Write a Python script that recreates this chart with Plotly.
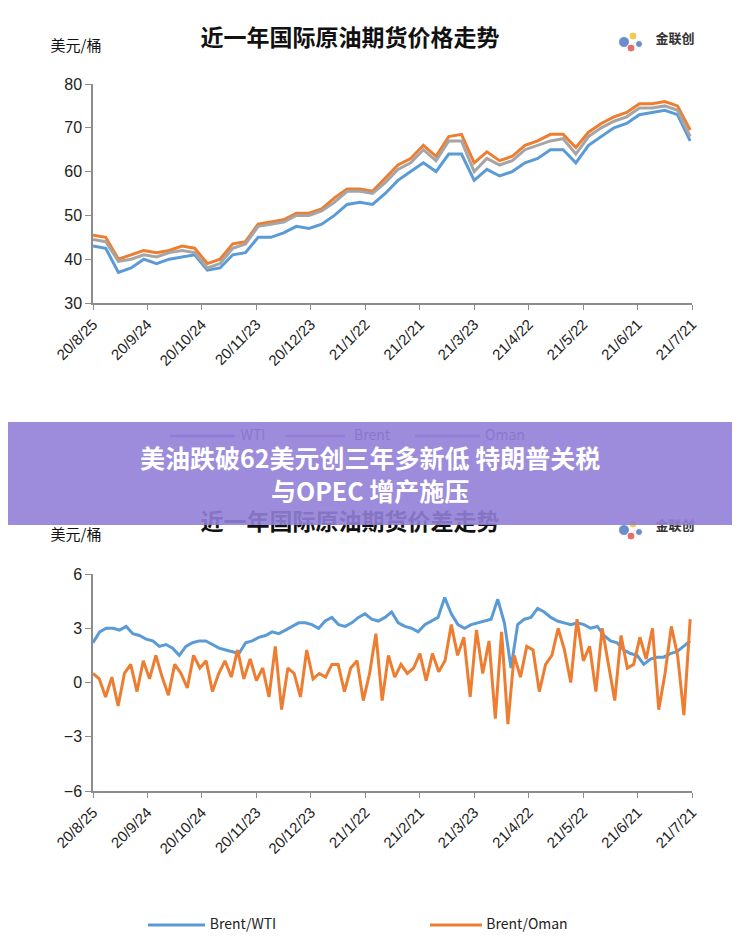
import pandas as pd
import plotly.graph_objects as go

# page body has an 8px margin, so the figure is 16px smaller than the window
OFF = 8
W, H = 740 - 2 * OFF, 948 - 2 * OFF

# weekly futures prices, USD/bbl
wti = [43, 42.5, 37, 38, 40, 39, 40, 40.5, 41, 37.5, 38, 41, 41.5, 45, 45, 46, 47.5, 47, 48,
       50, 52.5, 53, 52.5, 55, 58, 60, 62, 60, 64, 64, 58, 60.5, 59, 60, 62, 63, 65, 65, 62,
       66, 68, 70, 71, 73, 73.5, 74, 73, 67]
brent = [45.5, 45, 40, 41, 42, 41.5, 42, 43, 42.5, 39, 40, 43.5, 44, 48, 48.5, 49, 50.5, 50.5,
         51.5, 54, 56, 56, 55.5, 58.5, 61.5, 63, 66, 63.5, 68, 68.5, 62, 64.5, 62.5, 63.5, 66,
         67, 68.5, 68.5, 65.5, 69, 71, 72.5, 73.5, 75.5, 75.5, 76, 75, 69.5]
oman = [44.5, 44, 39.5, 40, 41, 40.5, 41.5, 42, 41.5, 38, 39, 42.5, 43.5, 47.5, 48, 48.5, 50,
        50, 51, 53, 55.5, 55.5, 55, 57.5, 60.5, 62, 65, 62.5, 67, 67, 60, 63, 61.5, 62.5, 65,
        66, 67, 67.5, 64, 68, 70, 71.5, 72.5, 74.5, 74.5, 75, 74, 68]

# spreads
brent_wti = [2.2, 2.8, 3.0,
             3.0, 2.9, 3.1, 2.7, 2.6, 2.4, 2.3, 2.0, 2.1,
             1.9, 1.5, 2.0, 2.2, 2.3, 2.3, 2.1, 1.9, 1.8,
             1.7, 1.6, 2.2, 2.3, 2.5, 2.6, 2.8, 2.7, 2.9,
             3.1, 3.3, 3.3, 3.2, 3.0, 3.4, 3.6, 3.2, 3.1,
             3.3, 3.6, 3.8, 3.5, 3.4, 3.6, 3.9, 3.3, 3.1,
             3.0, 2.8, 3.2, 3.4, 3.6, 4.7, 3.8, 3.2, 3.0,
             3.2, 3.3, 3.4, 3.5, 4.6, 3.3, 0.8, 3.2, 3.5,
             3.6, 4.1, 3.9, 3.6, 3.4, 3.3, 3.2, 3.3, 3.2,
             3.0, 3.1, 2.6, 2.3, 2.2, 1.8, 1.6, 1.5, 1.0,
             1.3, 1.4, 1.4, 1.6, 1.7, 2.0, 2.3]
brent_oman = [0.5, 0.2, -0.8,
              0.3, -1.3, 0.5, 1.0, -0.5, 1.2, 0.2, 1.5, 0.3,
              -0.7, 1.0, 0.5, -0.3, 1.5, 0.8, 1.2, -0.5, 0.5,
              1.2, 0.3, 1.8, 0.2, 1.3, 0.1, 0.8, -0.8, 2.0,
              -1.5, 0.8, 0.5, -0.8, 1.8, 0.2, 0.5, 0.3, 1.0,
              1.0, -0.5, 0.8, 1.2, -1.0, 0.5, 2.7, -1.0, 1.5,
              0.3, 1.0, 0.5, 0.8, 1.6, 0.1, 1.6, 0.6, 1.2,
              3.2, 1.5, 2.5, -0.8, 2.9, 0.5, 2.3, -2.0, 2.8,
              -2.3, 1.5, 0.3, 2.0, 1.8, -0.5, 1.0, 1.5, 3.0,
              1.8, 0.0, 3.5, 1.2, 2.0, -0.5, 3.0, 1.0, -1.0,
              2.6, 0.8, 1.0, 2.5, 1.3, 3.0, -1.5, 0.5, 3.1,
              1.5, -1.8, 3.5]

tick_dates = ["2020-08-25", "2020-09-24", "2020-10-24", "2020-11-23", "2020-12-23", "2021-01-22",
              "2021-02-21", "2021-03-23", "2021-04-22", "2021-05-22", "2021-06-21", "2021-07-21"]
tick_labels = ["20/8/25", "20/9/24", "20/10/24", "20/11/23", "20/12/23", "21/1/22",
               "21/2/21", "21/3/23", "21/4/22", "21/5/22", "21/6/21", "21/7/21"]

start, end = pd.Timestamp("2020-08-25"), pd.Timestamp("2021-07-20")
d_px = pd.date_range(start, end, periods=len(wti))
d_bw = pd.date_range(start, end, periods=len(brent_wti))
d_bo = pd.date_range(start, end, periods=len(brent_oman))

BLUE, ORANGE, GRAY = "#5b9bd5", "#ed7d31", "#a5a5a5"
AX = "#8c8c8c"


def fx(p):
    return (p - OFF) / W


def fy(p):
    return 1 - (p - OFF) / H


fig = go.Figure()
for y, c in [(wti, BLUE), (brent, ORANGE), (oman, GRAY)]:
    fig.add_trace(go.Scatter(x=d_px, y=y, mode="lines", line=dict(color=c, width=3),
                             xaxis="x", yaxis="y", showlegend=False))
for d, y, c in [(d_bw, brent_wti, BLUE), (d_bo, brent_oman, ORANGE)]:
    fig.add_trace(go.Scatter(x=d, y=y, mode="lines", line=dict(color=c, width=3),
                             xaxis="x2", yaxis="y2", showlegend=False))

xcommon = dict(type="date", range=["2020-08-25", "2021-07-21"], tickvals=tick_dates,
               ticktext=tick_labels, tickangle=-45, ticks="outside", ticklen=5,
               tickcolor=AX, showline=True, linecolor=AX, linewidth=1.5,
               showgrid=False, zeroline=False, domain=[fx(93), fx(692)], automargin=False,
               tickfont=dict(family="Liberation Sans", size=15, color="#222"))
ycommon = dict(ticks="outside", ticklen=6, tickcolor=AX, showline=True, linecolor=AX,
               linewidth=1.5, showgrid=False, zeroline=False, automargin=False,
               tickfont=dict(family="Liberation Sans", size=16, color="#222"))

# pixel overlay axis for chart labels (drawn under the banner)
ov = dict(domain=[0, 1], visible=False, fixedrange=True, automargin=False)
labels = [
    (350, 40, "近一年国际原油期货价格走势", 23, "#111", "bold"),
    (350, 524, "近一年国际原油期货价差走势", 23, "#111", "bold"),
    (76, 47, "美元/桶", 15, "#111", "normal"),
    (76, 536, "美元/桶", 15, "#111", "normal"),
    (253, 436, "WTI", 14, "#33335a", "normal"),
    (372, 436, "Brent", 14, "#33335a", "normal"),
    (505, 436, "Oman", 14, "#33335a", "normal"),
    (675, 40, "金联创", 13, "#333", "bold"),
    (675, 527, "金联创", 13, "#333", "bold"),
    (243, 925, "Brent/WTI", 14, "#222", "normal"),
    (527, 925, "Brent/Oman", 14, "#222", "normal"),
]
fig.add_trace(go.Scatter(
    x=[l[0] for l in labels], y=[l[1] for l in labels], text=[l[2] for l in labels],
    mode="text", xaxis="x3", yaxis="y3", showlegend=False, hoverinfo="skip",
    textfont=dict(family="Noto Sans CJK SC", size=[l[3] for l in labels],
                  color=[l[4] for l in labels], weight=[l[5] for l in labels])))
# logo blobs
for ly in (42, 530):
    fig.add_trace(go.Scatter(x=[624, 633, 631, 639], y=[ly, ly - 6, ly + 6, ly + 2], mode="markers",
                             marker=dict(size=[11, 8, 8, 7], color=["#2b5fb3", "#f0b400", "#d6332b", "#2b5fb3"]),
                             xaxis="x3", yaxis="y3", showlegend=False, hoverinfo="skip"))

shapes = []
for x0, x1, y0, c in [(170, 235, 436, "#6a7fd6"), (285, 345, 436, "#b47aa8"), (415, 480, 436, "#8f86c6"),
                      (148, 205, 925, BLUE), (430, 482, 925, ORANGE)]:
    shapes.append(dict(type="line", xref="x3", yref="y3", x0=x0, x1=x1, y0=y0, y1=y0,
                       line=dict(color=c, width=3), layer="above"))
shapes.append(dict(type="rect", xref="x3", yref="y3", x0=0, x1=740, y0=422, y1=525,
                   fillcolor="rgba(145,128,215,0.9)", line=dict(width=0), layer="above"))

fig.update_layout(
    width=W, height=H, autosize=False, margin=dict(l=0, r=0, t=0, b=0, pad=0),
    paper_bgcolor="white", plot_bgcolor="rgba(0,0,0,0)",
    xaxis=dict(xcommon, anchor="y"),
    yaxis=dict(ycommon, range=[30, 80], dtick=10, domain=[fy(303), fy(84)], anchor="x"),
    xaxis2=dict(xcommon, anchor="y2"),
    yaxis2=dict(ycommon, range=[-6, 6], dtick=3, domain=[fy(791), fy(574)], anchor="x2"),
    xaxis3=dict(ov, range=[OFF, OFF + W], anchor="y3"),
    yaxis3=dict(ov, range=[OFF + H, OFF], anchor="x3"),
    shapes=shapes,
    annotations=[dict(xref="x3", yref="y3", x=370, y=473,
                      text="美油跌破62美元创三年多新低 特朗普关税<br>与OPEC 增产施压", showarrow=False,
                      font=dict(family="Noto Sans CJK SC", size=25, color="white", weight="bold"))],
)

fig.write_html("out.html")
